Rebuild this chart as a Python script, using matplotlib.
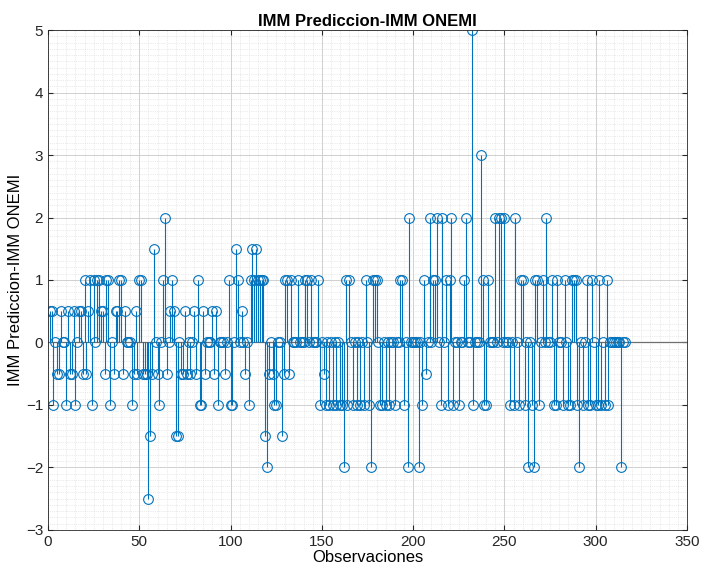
import matplotlib
matplotlib.use("Agg")
import matplotlib.pyplot as plt
from matplotlib.ticker import MultipleLocator

title = "IMM Prediccion-IMM ONEMI"
xlabel = "Observaciones"
ylabel = "IMM Prediccion-IMM ONEMI"

values = [
    0.5, 0.5, -1, 0, -0.5, -0.5, 0.5, 0, 0, -1,
    0.5, -0.5, -0.5, 0.5, -1, 0, 0.5, 0.5, -0.5, 1,
    -0.5, 0.5, 1, -1, 1, 0, 1, 1, 0.5, 0.5,
    -0.5, 1, 1, -1, 0, -0.5, 0.5, 0.5, 1, 1,
    -0.5, 0.5, 0, 0, 0, -1, -0.5, 0.5, -0.5, 1,
    1, -0.5, -0.5, -0.5, -2.5, -1.5, -0.5, 1.5, 0, -0.5,
    -1, 0, 1, 2, -0.5, 0, 0.5, 1, 0.5, -1.5,
    -1.5, 0, -0.5, -0.5, 0.5, -0.5, 0, -0.5, 0, 0.5,
    -0.5, 1, -1, -1, 0.5, -0.5, 0, 0, 0, 0.5,
    -0.5, 0.5, -1, 0, 0, 0, -0.5, 0, 1, -1,
    -1, 0, 1.5, 1, 0, 0.5, 0, -0.5, 0, -1,
    1, 1.5, 1, 1.5, 1, 1, 1, 1, -1.5, -2,
    -0.5, 0, -0.5, -1, -1, 0, 0, -1.5, -0.5, 1,
    1, -0.5, 1, 0, 0, 0, 1, 0, 0, 0,
    1, 1, 0, 1, 0, 0, 0, 1, -1, 0,
    -0.5, -1, 0, -1, 0, -1, 0, -1, 0, -1,
    -1, -2, 1, -1, 1, 0, -1, 0, -1, 0,
    -1, 0, -1, 1, 0, -1, -2, 1, 1, 1,
    0, -1, -1, 0, -1, 0, -1, 0, 0, -1,
    0, 0, 1, 1, -1, 0, -2, 2, 0, 0,
    0, 0, -2, 0, -1, 1, -0.5, 0, 2, 0,
    1, 1, 2, 0, -1, 2, 0, 1, -1, 1,
    2, -1, 0, 0, -1, 0, 0, 1, 2, 0,
    0, 5, -1, 0, 0, 0, 3, 1, -1, -1,
    1, 0, 0, 0, 2, 0, 2, 2, 0, 2,
    0, 0, -1, 0, -1, 2, 0, -1, 1, 1,
    -1, 0, -2, 0, -1, -2, 1, 1, -1, 0,
    1, 0, 2, 0, 0, 1, -1, -1, 1, 0,
    0, -1, 1, 0, -1, -1, 1, 1, 1, -1,
    -2, 0, -1, 0, 1, -1, -1, 1, 0, -1,
    -1, 1, -1, 0, -1, 1, -1, 0, 0, 0,
    0, 0, 0, -2, 0, 0,
]
obs = list(range(1, len(values) + 1))

color = "#0072BD"
plt.rcParams["font.family"] = ["Liberation Sans", "DejaVu Sans"]

fig = plt.figure(figsize=(7.01, 5.74), dpi=100)
ax = fig.add_axes([0.0685, 0.0767, 0.9115, 0.871])

ax.axhline(0, color="#6e6e6e", lw=0.9, zorder=1)
ml, sl, bl = ax.stem(obs, values, linefmt="-", markerfmt="o", basefmt=" ")
plt.setp(sl, color=color, linewidth=0.8)
plt.setp(ml, markerfacecolor="none", markeredgecolor=color, markersize=7, markeredgewidth=0.8)

ax.set_xlim(0, 350)
ax.set_ylim(-3, 5)
ax.xaxis.set_major_locator(MultipleLocator(50))
ax.yaxis.set_major_locator(MultipleLocator(1))
ax.xaxis.set_minor_locator(MultipleLocator(5))
ax.yaxis.set_minor_locator(MultipleLocator(0.1))
ax.grid(True, which="major", color="#d0d0d0", lw=0.7)
ax.grid(True, which="minor", color="#d8d8d8", lw=0.5, ls=":")
ax.set_axisbelow(True)
ax.tick_params(which="both", direction="in", top=True, right=True, labelsize=11, colors="#262626")
ax.tick_params(which="minor", length=0)
for s in ax.spines.values():
    s.set_color("#262626")
    s.set_linewidth(0.6)

ax.set_title(title, fontsize=12, fontweight="bold", pad=3)
ax.set_xlabel(xlabel, fontsize=12, labelpad=1)
ax.set_ylabel(ylabel, fontsize=12, labelpad=2)

fig.savefig("out.png", dpi=100, facecolor="white")
